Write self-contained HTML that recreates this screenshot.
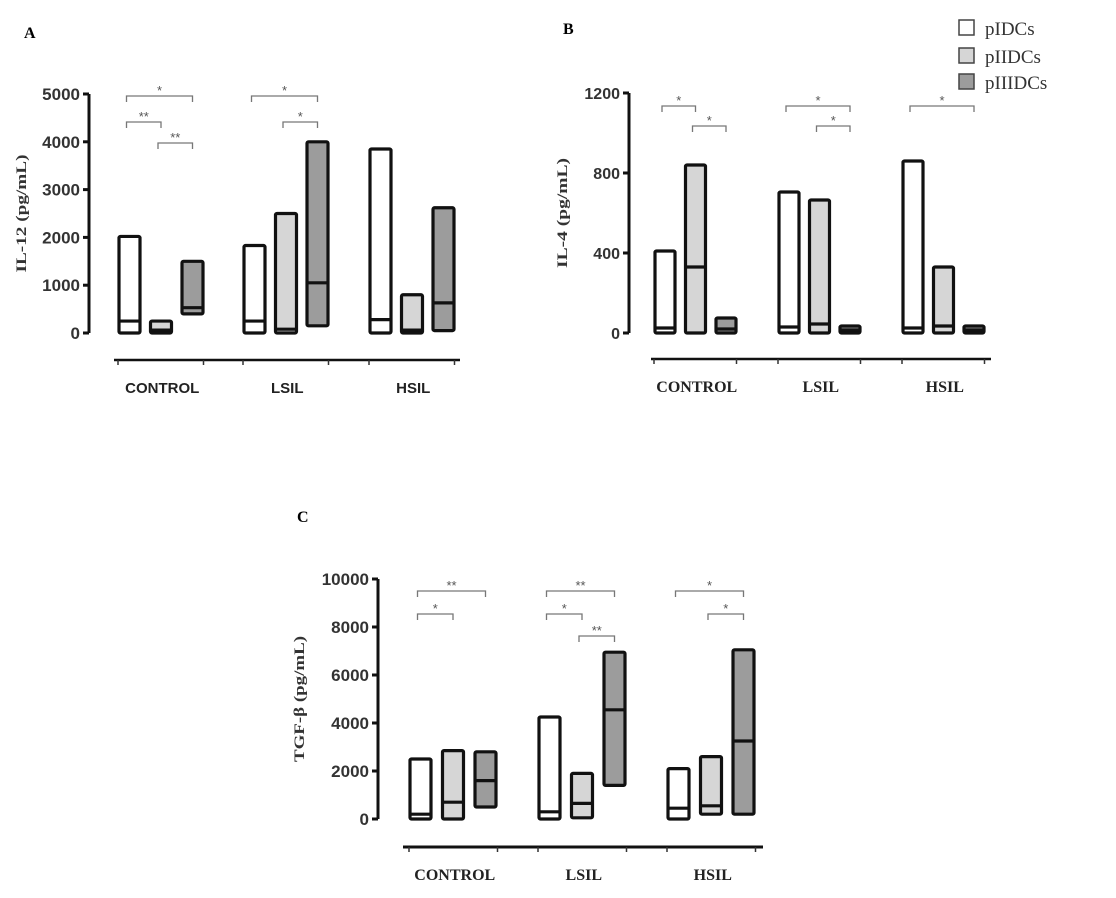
<!DOCTYPE html>
<html><head><meta charset="utf-8"><style>
html,body{margin:0;padding:0;background:#fff;}
svg{display:block;}
</style></head><body>
<svg id="fig" width="1116" height="898" viewBox="0 0 1116 898" xmlns="http://www.w3.org/2000/svg">
<text x="24" y="38" font-family="Liberation Serif, serif" font-weight="bold" font-size="16">A</text>
<text x="563" y="34" font-family="Liberation Serif, serif" font-weight="bold" font-size="16">B</text>
<text x="297" y="522" font-family="Liberation Serif, serif" font-weight="bold" font-size="16">C</text>
<g>
  <rect x="959" y="20" width="15" height="15" fill="#fff" stroke="#444" stroke-width="1.5"/>
  <text x="985" y="35" font-family="Liberation Serif, serif" font-size="19" fill="#333">pIDCs</text>
  <rect x="959" y="48" width="15" height="15" fill="#d6d6d6" stroke="#444" stroke-width="1.5"/>
  <text x="985" y="63" font-family="Liberation Serif, serif" font-size="19" fill="#333">pIIDCs</text>
  <rect x="959" y="74" width="15" height="15" fill="#9c9c9c" stroke="#444" stroke-width="1.5"/>
  <text x="985" y="89" font-family="Liberation Serif, serif" font-size="19" fill="#333">pIIIDCs</text>
</g>
</svg>
<script>
const NS="http://www.w3.org/2000/svg";
const svg=document.getElementById('fig');
const categories=["CONTROL","LSIL","HSIL"];
const seriesNames=["pIDCs","pIIDCs","pIIIDCs"];
// Panel A: IL-12 [min, median, max] per category per series
const il12Min=[[0,0,400],[0,0,150],[0,0,50]];
const il12Med=[[250,60,530],[250,80,1050],[280,60,630]];
const il12Max=[[2020,250,1500],[1830,2500,4000],[3850,800,2620]];
const il12Ticks=[0,1000,2000,3000,4000,5000];
// Panel B: IL-4
const il4Min=[[0,0,0],[0,0,0],[0,0,0]];
const il4Med=[[25,330,20],[30,45,15],[25,35,15]];
const il4Max=[[410,840,75],[705,665,35],[860,330,35]];
const il4Ticks=[0,400,800,1200];
// Panel C: TGF-beta
const tgfMin=[[0,0,500],[0,50,1400],[0,200,200]];
const tgfMed=[[200,700,1600],[300,650,4550],[450,550,3250]];
const tgfMax=[[2500,2850,2800],[4250,1900,6950],[2100,2600,7050]];
const tgfTicks=[0,2000,4000,6000,8000,10000];
// significance brackets: [category, fromSeries, toSeries, level, label]
const il12Sig=[[0,0,2,0,"*"],[0,0,1,1,"**"],[0,1,2,2,"**"],[1,0,2,0,"*"],[1,1,2,1,"*"]];
const il4Sig=[[0,0,1,0,"*"],[0,1,2,1,"*"],[1,0,2,0,"*"],[1,1,2,1,"*"],[2,0,2,0,"*"]];
const tgfSig=[[0,0,2,0,"**"],[0,0,1,1,"*"],[1,0,2,0,"**"],[1,0,1,1,"*"],[1,1,2,2,"**"],[2,0,2,0,"*"],[2,1,2,1,"*"]];
const fills=["#ffffff","#d6d6d6","#9c9c9c"];

function el(tag,attrs,parent){const e=document.createElementNS(NS,tag);for(const k in attrs)e.setAttribute(k,attrs[k]);(parent||svg).appendChild(e);return e;}

function panel(cfg){
  const g=el('g',{});
  
  
  const y=v=>cfg.y0-(v/cfg.ymax)*(cfg.y0-cfg.yTop);
  const ax=el('line',{x1:cfg.ax,x2:cfg.ax,y1:y(cfg.ymax),y2:cfg.y0,stroke:'#111','stroke-width':3},g);
  
  
  cfg.ticks.forEach(t=>{
    const tl=el('line',{x1:cfg.ax-6,x2:cfg.ax,y1:y(t),y2:y(t),stroke:'#111','stroke-width':3},g);
    
    
    const tx=el('text',{x:cfg.ax-9,y:y(t)+6,'text-anchor':'end','font-family':cfg.tickFont,'font-weight':'bold','font-size':cfg.tickSize,fill:'#333'},g);
    tx.textContent=t;
    
    
  });
  const mid=(cfg.y0+cfg.yTop)/2;
  const yt=el('text',{x:cfg.ax-cfg.titleOff,y:mid,'text-anchor':'middle','font-family':'Liberation Serif, serif','font-weight':'bold','font-size':15,fill:'#333',textLength:cfg.titleLen,lengthAdjust:'spacingAndGlyphs',transform:`rotate(-90 ${cfg.ax-cfg.titleOff} ${mid})`},g);
  yt.textContent=cfg.title;
  
  
  const xl=el('line',{x1:cfg.xl0,x2:cfg.xl1,y1:cfg.xly,y2:cfg.xly,stroke:'#111','stroke-width':cfg.xlw},g);
  
  
  categories.forEach((c,ci)=>{
    const gx=cfg.gx[ci];
    [gx-1, gx+3*cfg.step-10].forEach(tx=>{
      const tk=el('line',{x1:tx,x2:tx,y1:cfg.xly,y2:cfg.xly+5,stroke:'#333','stroke-width':1.5},g);
      
      
    });
    const lab=el('text',{x:gx+1.5*cfg.step-4,y:cfg.xly+33,'text-anchor':'middle','font-family':cfg.catFont,'font-weight':'bold','font-size':cfg.catSize,fill:'#222'},g);
    lab.textContent=c;
    
    
    seriesNames.forEach((s,si)=>{
      const x=gx+si*cfg.step;
      const top=y(cfg.max[ci][si]), bot=y(cfg.min[ci][si]);
      const r=el('rect',{x:x,y:top,width:cfg.bw,height:Math.max(bot-top,1),fill:fills[si],stroke:'#111','stroke-width':3.2,rx:1.5},g);
      
      
      const m=el('line',{x1:x,x2:x+cfg.bw,y1:y(cfg.med[ci][si]),y2:y(cfg.med[ci][si]),stroke:'#111','stroke-width':3.2},g);
      
      
    });
  });
  cfg.sig.forEach(b=>{
    const gx=cfg.gx[b[0]];
    const x1=gx+b[1]*cfg.step+cfg.bw/2-3, x2=gx+b[2]*cfg.step+cfg.bw/2;
    const by=cfg.sigY[b[3]];
    const p=el('path',{d:`M${x1} ${by+6}V${by}H${x2}V${by+6}`,fill:'none',stroke:'#777','stroke-width':1.3},g);
    
    
    const t=el('text',{x:(x1+x2)/2,y:by-1,'text-anchor':'middle','font-family':'Liberation Sans, sans-serif','font-size':13,fill:'#555'},g);
    t.textContent=b[4];
    
    
  });
}

panel({name:'panel-a-il12',ax:89,y0:333,yTop:94,ymax:5000,ticks:il12Ticks,min:il12Min,med:il12Med,max:il12Max,
  gx:[119,244,370],step:31.5,bw:21,xl0:114,xl1:460,xly:360,xlw:2.5,sig:il12Sig,sigY:[96,122,143],
  tickFont:'Liberation Sans, sans-serif',tickSize:17,catFont:'Liberation Sans, sans-serif',catSize:15,title:'IL-12 (pg/mL)',titleOff:63,titleLen:118});
panel({name:'panel-b-il4',ax:629,y0:333,yTop:93,ymax:1200,ticks:il4Ticks,min:il4Min,med:il4Med,max:il4Max,
  gx:[655,779,903],step:30.5,bw:20,xl0:651,xl1:991,xly:359,xlw:2.5,sig:il4Sig,sigY:[106,126],
  tickFont:'Liberation Sans, sans-serif',tickSize:16,catFont:'Liberation Serif, serif',catSize:16,title:'IL-4 (pg/mL)',titleOff:62,titleLen:110});
panel({name:'panel-c-tgfb',ax:378,y0:819,yTop:579,ymax:10000,ticks:tgfTicks,min:tgfMin,med:tgfMed,max:tgfMax,
  gx:[410,539,668],step:32.5,bw:21,xl0:403,xl1:763,xly:847,xlw:3,sig:tgfSig,sigY:[591,614,636],
  tickFont:'Liberation Sans, sans-serif',tickSize:17,catFont:'Liberation Serif, serif',catSize:16,title:'TGF-β (pg/mL)',titleOff:74,titleLen:126});
</script>
</body></html>
